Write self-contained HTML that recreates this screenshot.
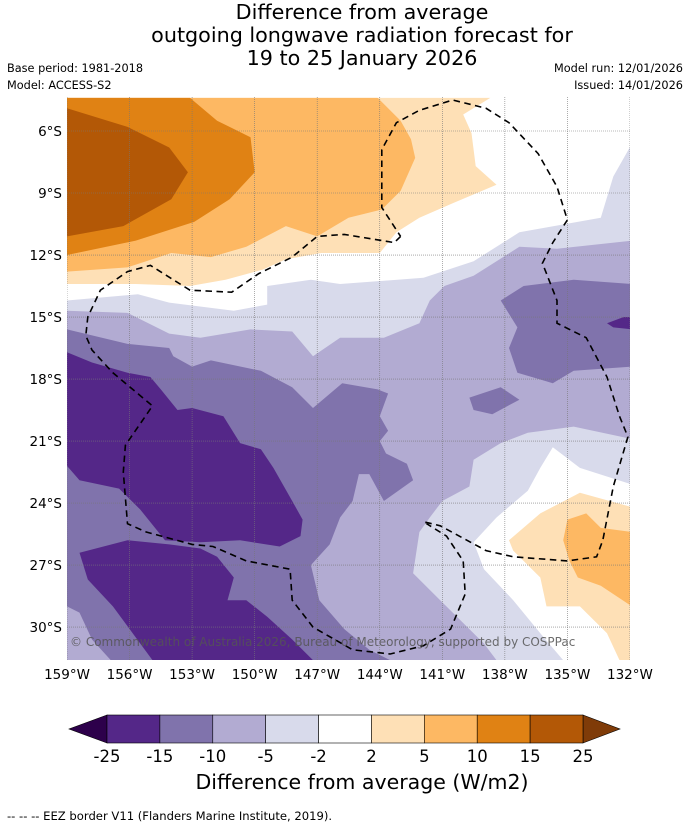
<!DOCTYPE html>
<html><head><meta charset="utf-8">
<style>
html,body{margin:0;padding:0;background:#fff;}
svg{display:block;font-family:"DejaVu Sans","Liberation Sans",sans-serif;}
</style></head>
<body>
<svg id="chart" width="690" height="827" viewBox="0 0 690 827" xmlns="http://www.w3.org/2000/svg">
<defs><clipPath id="mapclip"><rect x="67" y="97" width="563" height="563"/></clipPath></defs>
<g text-anchor="middle" font-size="20.7" fill="#000">
<text x="362" y="19">Difference from average</text>
<text x="362" y="42">outgoing longwave radiation forecast for</text>
<text x="362" y="65">19 to 25 January 2026</text>
</g>
<text x="7" y="72" font-size="11.3">Base period: 1981-2018</text>
<text x="7" y="89" font-size="11.3">Model: ACCESS-S2</text>
<text x="683" y="72" font-size="11.3" text-anchor="end">Model run: 12/01/2026</text>
<text x="683" y="89" font-size="11.3" text-anchor="end">Issued: 14/01/2026</text>
<g id="map" clip-path="url(#mapclip)">
<rect x="67" y="97" width="563" height="563" fill="#fff"/>
</g>
<g id="axes"></g>
<g id="cbar"></g>
<text x="362" y="789" font-size="20.5" text-anchor="middle">Difference from average (W/m2)</text>
<text x="7" y="820" font-size="11.6">--  --  -- EEZ border V11 (Flanders Marine Institute, 2019).</text>
</svg>
<script>
// ---- data ----
const lonTicks = [159,156,153,150,147,144,141,138,135,132];
const latTicks = [6,9,12,15,18,21,24,27,30];
const levels = [-25,-15,-10,-5,-2,2,5,10,15,25];
const levelColors = ["#542788","#8073ac","#b2abd2","#d8daeb","#ffffff","#fee0b6","#fdb863","#e08214","#b35806"];
const extendLow = "#2d004b";
const extendHigh = "#7f3b08";
// contour regions: [lonW, latS] pairs, level class index, drawn in order
const regLav = [[159,14.2],[155.6,13.9],[154.1,14.3],[151,14.7],[149.4,14.4],[149.4,13.5],[147.3,13.2],[145.9,13.4],[141.9,13.1],[139.5,12.3],[137.3,10.9],[133.4,10.2],[132.8,8.2],[131.9,6.6],[131.9,31.6],[159,31.6]];
const regLight = [[159,14.7],[156.1,14.8],[154.1,15.8],[152.6,16.0],[150.2,15.6],[148.2,15.7],[147.2,16.9],[145.9,16.0],[143.8,16.0],[142.1,15.3],[141.6,14.2],[140.9,13.5],[139.5,13.0],[137.3,11.6],[135.5,11.7],[131.9,11.3],[131.9,31.6],[159,31.6]];
const regLavSE = [[131.9,20.9],[134.7,20.3],[136.9,20.6],[138.2,21.1],[139.5,21.9],[139.7,23.2],[141,23.9],[141.6,24.7],[142.1,25.4],[142.4,27.4],[141.1,28.7],[139,30.8],[138.4,31.6],[131.9,31.6]];
const regWhiteSE = [[131.9,23.1],[134.4,22.3],[135.7,21.3],[136.3,22.3],[136.9,23.4],[138.4,24.7],[139.5,25.9],[139,27.2],[137.6,28.7],[136.3,30.3],[135.2,31.6],[131.9,31.6]];
const regOrgSE1 = [[137.8,25.8],[136.3,24.5],[134.4,23.5],[131.9,24.2],[131.9,31.6],[132.5,31.6],[133.1,30.3],[134.4,29.0],[136,29.0],[136.3,27.6],[137.6,26.3]];
const regOrgSE2 = [[135,24.8],[134.1,24.5],[133.4,25.2],[131.9,25.4],[131.9,29.0],[133.4,28.0],[134.5,27.6],[134.9,26.8],[135.2,25.8]];
const regMidE = [[138.2,14.2],[137.1,13.5],[134.7,13.2],[131.9,13.4],[131.9,17.4],[134.7,17.6],[135.7,18.2],[137.4,17.7],[137.8,16.5],[137.4,15.5]];
const regDarkE = [[133.1,15.3],[132.3,15.0],[131.9,15.0],[131.9,15.6],[132.8,15.5]];
const regMidBlob = [[139.7,18.9],[138.2,18.4],[137.3,19.0],[138.6,19.7],[139.5,19.5]];
const regMidW = [[159,15.6],[156.1,16.3],[154.1,16.5],[153.9,16.9],[153,17.4],[152.1,17.1],[149.7,17.6],[148.2,18.4],[147.2,19.4],[145.8,18.2],[144.1,18.5],[143.6,18.7],[144,19.8],[143.6,20.5],[144,21],[143.7,21.6],[142.7,22.1],[142.4,22.9],[143.8,23.9],[144.5,22.6],[145,22.6],[145.3,23.9],[145.9,24.7],[146.4,26],[147.3,27],[146.9,28.7],[145.7,30.1],[144.5,31.1],[143.5,31.6],[159,31.6]];
const regLightSW = [[159,29],[158.4,29.3],[157.8,30.6],[156.9,31.6],[159,31.6]];
const regDark1 = [[159,16.7],[157.8,17.2],[156.1,17.7],[155,17.9],[154.5,18.5],[153.7,19.5],[153,19.4],[151.5,19.8],[150.7,21.1],[149.7,21.4],[149.1,22.3],[148.2,23.9],[147.7,24.8],[147.8,25.6],[148.8,26.1],[150.7,25.8],[152.6,25.9],[154.3,25.8],[155.5,24.3],[156.5,23.3],[158.4,22.9],[159,22.2]];
const regDark2 = [[156.1,25.8],[154.1,26],[152.6,26.2],[151.8,26.6],[151,27.6],[151.3,28.7],[150.4,28.7],[149.4,29.5],[148.2,30.6],[147.2,31.6],[154.9,31.6],[156.8,29],[158,27.7],[158.4,26.4]];
const regOrg1 = [[159,4.4],[138.7,4.4],[140,5.2],[139.6,6.1],[139.4,7.7],[138.4,8.6],[140.5,9.5],[142.1,10.2],[143.2,10.9],[144,11.9],[146.8,11.9],[148.5,12.2],[149.6,12.7],[151.4,13.2],[153.1,13.5],[155.7,13.4],[159,13.4]];
const regOrg2 = [[159,4.4],[144.1,4.4],[143,5.5],[142.5,6.4],[142.3,7.3],[143,8.9],[143.9,9.8],[145.5,10.2],[147,11.1],[148.5,10.6],[150.4,11.6],[152.1,12.1],[154,11.9],[156.1,12.6],[159,12.8]];
const regOrg3 = [[159,4.4],[153.1,4.4],[151.8,5.5],[150.2,6.3],[150,8.0],[151.2,9.3],[152.9,10.4],[155.7,11.3],[159,12.0]];
const regOrg4 = [[159,4.9],[156.1,5.8],[154.1,6.8],[153.2,8.0],[154,9.3],[156.3,10.6],[159,11.1]];
const eezLine = [[143,11.1],[143.3,11.4],[145.7,11.0],[147,11.1],[148.2,12.1],[149.8,12.9],[151.1,13.8],[153.1,13.7],[155,12.5],[156.1,12.8],[157.4,13.7],[158,15],[158.1,15.9],[157.8,16.6],[156.8,17.7],[154.9,19.3],[156.2,21.2],[156.3,22.5],[156.1,25],[155.2,25.4],[153,26],[152,26.1],[150.4,26.8],[148.3,27.2],[148.2,28.7],[147.2,30],[145.3,31.1],[143.5,31.3],[141.9,30.9],[140.6,30.1],[139.9,28.4],[140,26.8],[140.8,25.6],[141.9,24.9],[141.1,25.1],[138.9,26.3],[137.6,26.6],[135,26.8],[133.6,26.6],[133.3,25.8],[132.8,23.2],[132.1,20.8],[132.5,19.8],[133.1,17.9],[134.1,16],[135.5,15.3],[135.5,14.2],[136,12.9],[136.2,12.4],[135.7,11.4],[135,10.3],[135.5,8.7],[136.4,7.1],[137.8,5.6],[138.9,4.9],[140.5,4.5],[142.1,5],[143.2,5.6],[143.9,6.9],[143.9,9.7],[143,11.1]];
const regionList = [
 ["lavender-region",regLav,3],["light-purple-region",regLight,2],["lavender-se-region",regLavSE,3],["neutral-se-region",regWhiteSE,4],
 ["orange-se-2-5",regOrgSE1,5],["orange-se-5-10",regOrgSE2,6],["mid-purple-east",regMidE,1],["dark-purple-east",regDarkE,0],
 ["mid-purple-blob",regMidBlob,1],["mid-purple-west",regMidW,1],["light-purple-sw",regLightSW,2],["dark-purple-west",regDark1,0],
 ["dark-purple-south",regDark2,0],["orange-2-5",regOrg1,5],["orange-5-10",regOrg2,6],["orange-10-15",regOrg3,7],["orange-15-25",regOrg4,8]
];
// ---- axes functions ----
const NS="http://www.w3.org/2000/svg";
const xLon = lw => 67 + (159 - lw) * 20.85;
const yLat = ls => 131 + (ls - 6) * 20.67;
function mk(tag, attrs, parent){const e=document.createElementNS(NS,tag);for(const k in attrs)e.setAttribute(k,attrs[k]);parent.appendChild(e);return e;}
const map=document.getElementById('map');
regionList.forEach(r=>{
  const d=r[1].map((p,i)=>(i?'L':'M')+xLon(p[0]).toFixed(1)+','+yLat(p[1]).toFixed(1)).join('')+'Z';
  const e=mk('path',{d:d,fill:levelColors[r[2]]},map);
  
  
});
// gridlines
lonTicks.forEach(l=>{
  const e=mk('line',{x1:xLon(l),x2:xLon(l),y1:97,y2:660,stroke:'#777','stroke-width':0.6,'stroke-dasharray':'1,1'},map);
  
  
});
latTicks.forEach(l=>{
  const e=mk('line',{x1:67,x2:630,y1:yLat(l),y2:yLat(l),stroke:'#777','stroke-width':0.6,'stroke-dasharray':'1,1'},map);
  
  
});
// EEZ
const eez=mk('path',{d:eezLine.map((p,i)=>(i?'L':'M')+xLon(p[0]).toFixed(1)+','+yLat(p[1]).toFixed(1)).join(''),fill:'none',stroke:'#000','stroke-width':1.6,'stroke-dasharray':'6.5,4.5'},map);


const cr=mk('text',{x:70,y:646,'font-size':12,fill:'#555','fill-opacity':0.85},map);
cr.textContent='© Commonwealth of Australia 2026, Bureau of Meteorology, supported by COSPPac';


// axis labels
const axes=document.getElementById('axes');
lonTicks.forEach(l=>{
  const t=mk('text',{x:xLon(l),y:679,'font-size':13.5,'text-anchor':'middle'},axes);
  t.textContent=l+'°W';
  
  
});
latTicks.forEach(l=>{
  const t=mk('text',{x:62,y:yLat(l)+5,'font-size':13.5,'text-anchor':'end'},axes);
  t.textContent=l+'°S';
  
  
});
// colorbar
const cb=document.getElementById('cbar');
const cbL=107, cbR=583, cbT=715, cbB=743, nb=levelColors.length, bw=(cbR-cbL)/nb;
const cx = i => cbL + i*bw;
const lt=mk('path',{d:`M${cbL},${cbT}L69,${(cbT+cbB)/2}L${cbL},${cbB}Z`,fill:extendLow,stroke:'#000','stroke-width':0.6},cb);


const rt=mk('path',{d:`M${cbR},${cbT}L620,${(cbT+cbB)/2}L${cbR},${cbB}Z`,fill:extendHigh,stroke:'#000','stroke-width':0.6},cb);


levelColors.forEach((c,i)=>{
  const r=mk('rect',{x:cx(i),y:cbT,width:bw,height:cbB-cbT,fill:c,stroke:'#000','stroke-width':0.6},cb);
  
  
});
levels.forEach((v,i)=>{
  const t=mk('text',{x:cx(i),y:762,'font-size':16.5,'text-anchor':'middle'},cb);
  t.textContent=v;
  
  
});
</script>
</body></html>
